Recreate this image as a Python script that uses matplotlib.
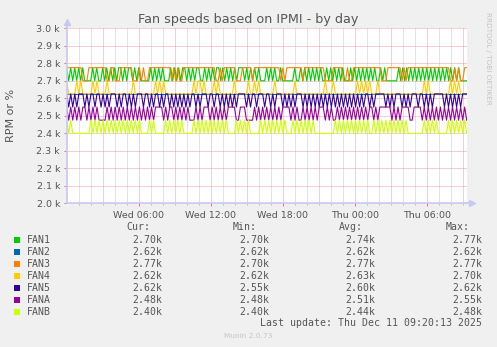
import numpy as np
import matplotlib
matplotlib.use("Agg")
import matplotlib.pyplot as plt

W, H = 497, 347

names = ["FAN1", "FAN2", "FAN3", "FAN4", "FAN5", "FANA", "FANB"]
colors = ["#00CC00", "#0066B3", "#FF8000", "#FFCC00", "#330099", "#990099", "#CCFF00"]

# each fan flips between two speeds (k RPM); state string: 0 = low, 1 = high,
# one character per 10 minutes
levels = {
    "FAN1": (2.700, 2.775),
    "FAN2": (2.625, 2.625),
    "FAN3": (2.700, 2.775),
    "FAN4": (2.625, 2.700),
    "FAN5": (2.550, 2.625),
    "FANA": (2.475, 2.550),
    "FANB": (2.400, 2.475),
}

fan1_state = ("10101010100001010010101010110101101010000010101010"
              "00101010110101011001010101101010101011101010101000"
              "10101001000000100101010101010010101010100010101010"
              "101010010100000010101010101010101010101010101010000")
fan2_state = "0" * 201
fan3_state = ("1111111100011111111100110001111110001010011111111111"
              "01010011111111111111110010111111000111110111111111111101"
              "01111111101111111111000011111001001111111111111100011111"
              "110101111111111111111111110010100" "11")
fan4_state = ("10000101000001010000100000000000010000000000101010"
              "00000000000001011010000101000000010000001001010000"
              "00010000000001000000000000001000100000000000101010"
              "100010000000000000000000000101000000000010101" "0000")
fan5_state = ("10101011101011011010101110101101010111011010110101"
              "10101010101011010111011011010101010111101011011101"
              "10101110101010111010101010101010101010101010101011"
              "0101111101010111010101110110101011111010101010111")
fana_state = ("1010101011010101000010101010101010101010101011110101"
              "1010101010001010111010101010111100111000010101010"
              "10101011110101001010101011101010010101010101010101"
              "101011111101010111100111101010101010101010101010")
fanb_state = ("1010000000001010101010101010101010101000010100000"
              "10101010100000101010101010101010000101010100000101"
              "01010101010001010101010100000000001010101010101010"
              "10010101010101010101000000001010101000001010101010")
states = [fan1_state, fan2_state, fan3_state, fan4_state,
          fan5_state, fana_state, fanb_state]

cur = ["2.70k", "2.62k", "2.77k", "2.62k", "2.62k", "2.48k", "2.40k"]
mins = ["2.70k", "2.62k", "2.70k", "2.62k", "2.55k", "2.48k", "2.40k"]
avgs = ["2.74k", "2.62k", "2.77k", "2.63k", "2.60k", "2.51k", "2.44k"]
maxs = ["2.77k", "2.62k", "2.77k", "2.70k", "2.62k", "2.55k", "2.48k"]

span_h = 400 / 12.0  # hours shown, Wed 00:00 onwards
x_labels = ["Wed 06:00", "Wed 12:00", "Wed 18:00", "Thu 00:00", "Thu 06:00"]
x_label_pos = [6, 12, 18, 24, 30]
y_ticks = [2.0, 2.1, 2.2, 2.3, 2.4, 2.5, 2.6, 2.7, 2.8, 2.9, 3.0]
y_labels = ["2.0 k", "2.1 k", "2.2 k", "2.3 k", "2.4 k", "2.5 k",
            "2.6 k", "2.7 k", "2.8 k", "2.9 k", "3.0 k"]

TXT = "#555555"
AXC = "#c8c8f4"


def px(x, y):
    return x / W, 1 - y / H


fig = plt.figure(figsize=(W / 100, H / 100), dpi=100, facecolor="#f0f0f0")
ax = fig.add_axes([66.7 / W, 1 - 203.3 / H, 400 / W, 175 / H])
ax.set_facecolor("white")
ax.set_xlim(0, span_h)
ax.set_ylim(2.0, 3.0)

# grid
for h in range(1, 34):
    if h % 3:
        ax.axvline(h, color="#c8c8c8", lw=0.72, ls=(0, (1, 1)), zorder=1)
for h in range(3, 34, 3):
    ax.axvline(h, color="#e8a0a0", lw=0.72, ls=(0, (1, 1)), zorder=1)
for v in y_ticks[1:]:
    ax.axhline(v, color="#e8a0a0", lw=0.72, ls=(0, (1, 1)), zorder=1)

for name, color, st in zip(names, colors, states):
    lo, hi = levels[name]
    vals = [hi if c == "1" else lo for c in st]
    t = np.linspace(0, span_h, len(vals))
    ax.plot(t, vals, color=color, lw=0.8, zorder=3)

ax.set_xticks(x_label_pos)
ax.set_xticklabels(x_labels)
ax.set_xticks(list(range(1, 34)), minor=True)
ax.set_yticks(y_ticks)
ax.set_yticklabels(y_labels)
ax.tick_params(axis="both", which="major", length=2, width=0.7, color="#e07070",
               labelsize=6.8, labelcolor=TXT)
ax.tick_params(axis="x", which="major", pad=3.5)
ax.tick_params(axis="y", which="major", pad=2.8)
ax.tick_params(axis="x", which="minor", length=1.5, width=0.7, color="#c0c0c0")

for s in ["top", "right"]:
    ax.spines[s].set_visible(False)
for s in ["left", "bottom"]:
    ax.spines[s].set_color(AXC)
    ax.spines[s].set_linewidth(1.2)
    ax.spines[s].set_zorder(4)

# axis arrows
ax.plot([0, 0], [1.0, 1.035], color=AXC, lw=1.2, transform=ax.transAxes, clip_on=False)
ax.plot([0], [1.035], marker="^", ms=5, color=AXC, transform=ax.transAxes, clip_on=False)
ax.plot([1.0, 1.01], [0, 0], color=AXC, lw=1.2, transform=ax.transAxes, clip_on=False)
ax.plot([1.012], [0], marker=">", ms=5, color=AXC, transform=ax.transAxes, clip_on=False)

fig.text(*px(248.5, 19.5), "Fan speeds based on IPMI - by day", ha="center", va="center",
         fontsize=9.2, color=TXT)
fig.text(*px(11, 115.5), "RPM or %", rotation=90, ha="center", va="center",
         fontsize=8, color=TXT)
fig.text(*px(488, 58), "RRDTOOL / TOBI OETIKER", rotation=270, ha="center", va="center",
         fontsize=5.2, color="#c4c4c4")

# legend table
mono = "DejaVu Sans Mono"
fs = 7.15
for xr, head in zip([150, 256.7, 362.7, 470], ["Cur:", "Min:", "Avg:", "Max:"]):
    fig.text(*px(xr, 227.3), head, ha="right", va="center", family=mono, fontsize=fs, color=TXT)
for i, name in enumerate(names):
    y = 240 + i * 11.95
    fig.patches.append(plt.Rectangle(px(14, y + 3), 6 / W, 6 / H, transform=fig.transFigure,
                                     facecolor=colors[i], edgecolor="none"))
    fig.text(*px(26.7, y), name, ha="left", va="center", family=mono, fontsize=fs, color=TXT)
    for xr, col in zip([162.7, 269.3, 375.7, 482.3], [cur, mins, avgs, maxs]):
        fig.text(*px(xr, y), col[i], ha="right", va="center", family=mono, fontsize=fs, color=TXT)

fig.text(*px(482.3, 323.3), "Last update: Thu Dec 11 09:20:13 2025", ha="right", va="center",
         family=mono, fontsize=fs, color=TXT)
fig.text(*px(248, 336), "Munin 2.0.73", ha="center", va="center", fontsize=5.3, color="#c4c4c4")

fig.savefig("out.png", dpi=100, facecolor=fig.get_facecolor())
